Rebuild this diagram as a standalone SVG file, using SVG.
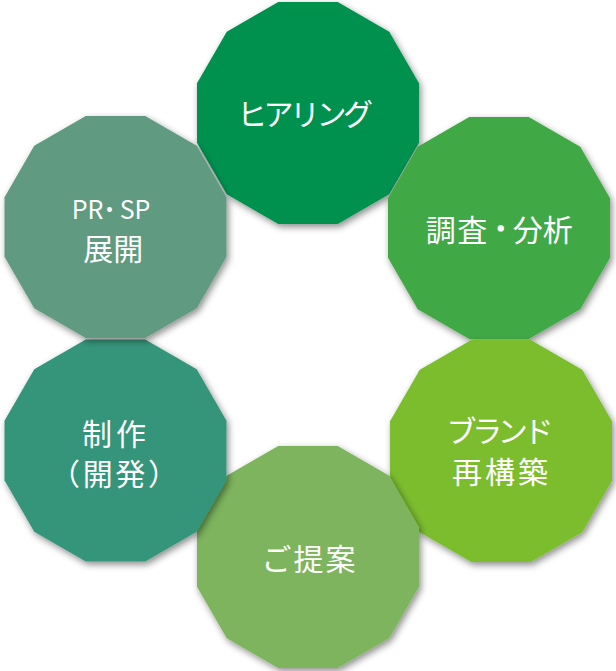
<svg xmlns="http://www.w3.org/2000/svg" width="616" height="671" viewBox="0 0 616 671">
  <defs>
    <filter id="shadow" x="-20%" y="-20%" width="140%" height="140%">
      <feDropShadow dx="2" dy="3" stdDeviation="3.5" flood-color="#000" flood-opacity="0.45"/>
    </filter>
    <polygon id="dodeca" points="111,29.74 81.25,81.25 29.74,111 -29.74,111 -81.25,81.25 -111,29.74 -111,-29.74 -81.25,-81.25 -29.74,-111 29.74,-111 81.25,-81.25 111,-29.74"/>
  </defs>
  <style>
    .shape { filter: url(#shadow); }
    .label { font-family: "Noto Sans CJK JP", "Noto Sans", sans-serif; font-size: 30px; fill: #ffffff; text-anchor: middle; }
    .start { text-anchor: start; }
    .dot { stroke: #ffffff; stroke-width: 1.2; }
    .latin { font-size: 25px; }
    .sdot { font-size: 14px; stroke: #ffffff; stroke-width: 1.8; }
  </style>
  <rect width="616" height="671" fill="#ffffff"/>
  <g id="connectors"></g>
  <g id="node-hearing">
    <use href="#dodeca" class="shape" transform="translate(308,113)" fill="#00914F"/>
    <text class="label" x="305" y="125" textLength="136" lengthAdjust="spacing">ヒアリング</text>
  </g>
  <g id="node-research">
    <use href="#dodeca" class="shape" transform="translate(499,228)" fill="#3FA845"/>
    <text class="label start" x="425.7" y="241"><tspan letter-spacing="1.5">調査</tspan><tspan class="dot" font-size="24" dy="-4">・</tspan><tspan dy="4">分析</tspan></text>
  </g>
  <g id="node-brand">
    <use href="#dodeca" class="shape" transform="translate(501,451)" fill="#7BBD2F"/>
    <text class="label" x="500" y="442" textLength="107" lengthAdjust="spacing">ブランド</text>
    <text class="label" x="500" y="483" textLength="96" lengthAdjust="spacing">再構築</text>
  </g>
  <g id="node-proposal">
    <use href="#dodeca" class="shape" transform="translate(308,557)" fill="#7DB45D"/>
    <text class="label" x="308.5" y="570" textLength="94" lengthAdjust="spacing">ご提案</text>
  </g>
  <g id="node-production">
    <use href="#dodeca" class="shape" transform="translate(115.5,450.5)" fill="#34957A"/>
    <text class="label" x="114" y="445" textLength="64" lengthAdjust="spacing">制作</text>
    <text class="label" x="114" y="485" textLength="128" lengthAdjust="spacing">（開発）</text>
  </g>
  <g id="node-prsp">
    <use href="#dodeca" class="shape" transform="translate(115.5,227)" fill="#619A81"/>
    <text class="label"><tspan class="latin" x="87.5" y="218.5">PR</tspan><tspan class="sdot" x="109.5" y="214.3">・</tspan><tspan class="latin" x="135" y="218.5">SP</tspan></text>
    <text class="label" x="113.3" y="260">展開</text>
  </g>
</svg>
